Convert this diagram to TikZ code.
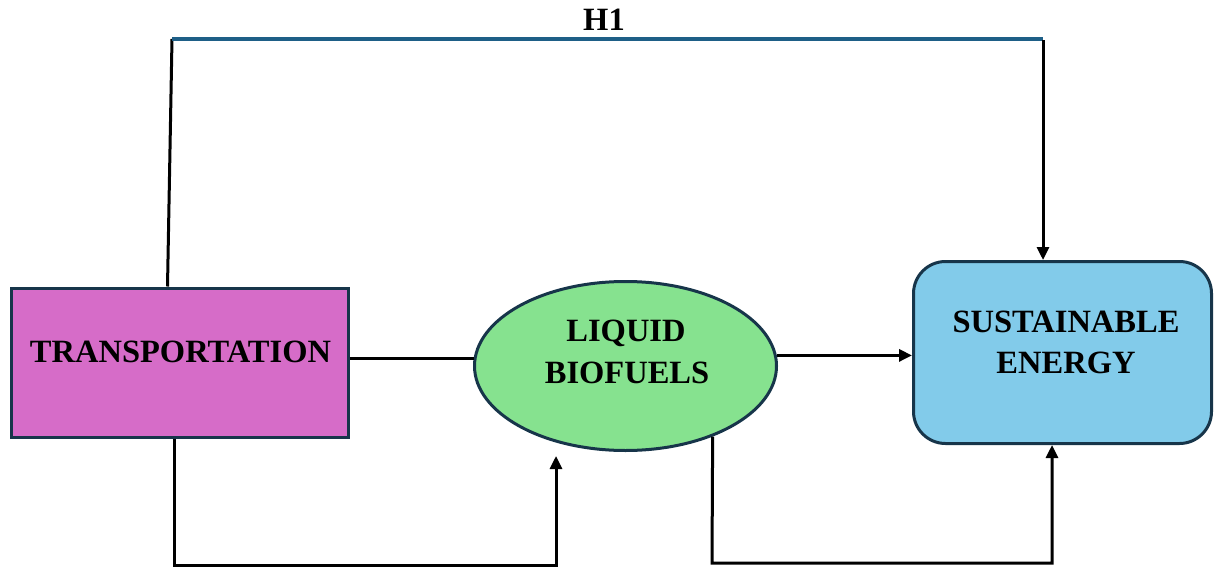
\documentclass[tikz,border=0pt]{standalone}
\usepackage{fontspec}
\setmainfont{Liberation Serif}
\usetikzlibrary{shapes.geometric,arrows.meta,calc}
\definecolor{pinkfill}{HTML}{D66CC8}
\definecolor{greenfill}{HTML}{86E28F}
\definecolor{bluefill}{HTML}{82CBEA}
\definecolor{edgecol}{HTML}{17354A}
\definecolor{hline}{HTML}{1E5F87}
\tikzset{
  boxstyle/.style={draw=edgecol, line width=3pt, inner sep=0pt},
  lbl/.style={font=\fontsize{32.5}{36}\selectfont\bfseries, anchor=base, inner sep=0pt},
  conn/.style={draw=black, line width=3pt},
  arr/.style={conn, -{Triangle[length=13pt,width=12pt]}},
  topline/.style={draw=hline, line width=3.5pt}
}
\begin{document}
\begin{tikzpicture}[x=1pt,y=-1pt]
\useasboundingbox (0,0) rectangle (1215,567);
% nodes
\node[boxstyle, fill=pinkfill, rectangle, minimum width=337pt, minimum height=149pt] (tr) at (179.5,362.5) {};
\node[boxstyle, fill=greenfill, ellipse, minimum width=302pt, minimum height=169pt] (lb) at (625.5,366) {};
\node[boxstyle, fill=bluefill, rectangle, rounded corners=32pt, minimum width=298pt, minimum height=182pt] (se) at (1062.5,352.5) {};
% labels
\node[lbl] (trt) at (180.5,362) {TRANSPORTATION};
\node[lbl] (lbt1) at (626,341) {LIQUID};
\node[lbl] (lbt2) at (627,383) {BIOFUELS};
\node[lbl] (set1) at (1066,332) {SUSTAINABLE};
\node[lbl] (set2) at (1066,373) {ENERGY};
\node[lbl] (h1) at (604,31) {H1};
% helper coordinates
\coordinate (h1l) at (172,39);
\coordinate (h1r) at (1043,39);
\coordinate (bl1) at (174,565);
\coordinate (bl2) at (556,565);
\coordinate (br1) at (712,563);
\coordinate (br2) at (1052,563);
% connectors
\draw[conn] ([xshift=158pt]tr.north west) -- (h1l);
\draw[topline] (h1l) -- (h1r);
\draw[arr] ([yshift=-1.5pt]h1r) -- (se.north -| h1r);
\draw[conn] (tr.east |- lb.177.5) -- (lb.177.5);
\draw[arr] (lb.4) -- (se.west |- lb.4);
\draw[arr] (bl1 |- tr.south) -- (bl1) -- (bl2) -- ([yshift=-4pt]bl2 |- lb.south);
\draw[arr] (lb.321.2) -- (br1) -- (br2) -- (br2 |- se.south);
\end{tikzpicture}
\end{document}
